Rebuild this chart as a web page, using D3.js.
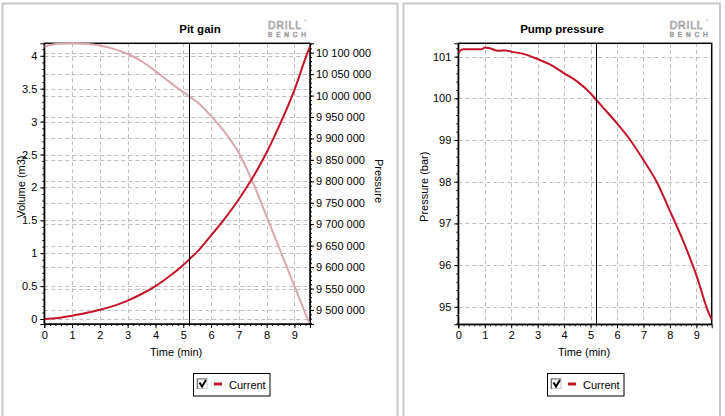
<!DOCTYPE html>
<html><head><meta charset="utf-8">
<script src="https://cdn.jsdelivr.net/npm/d3@7/dist/d3.min.js"></script>
<style>
body{margin:0;background:#fff;}
svg{display:block;font-family:"Liberation Sans",Arial,sans-serif;}
</style></head>
<body>
<svg id="c" width="725" height="416"></svg>
<script>
// ---- data ----
const pitTime   = [0,0.5,1,1.5,2,2.5,3,3.5,4,4.5,5,5.22,5.5,6,6.5,7,7.5,8,8.5,9,9.5,9.56];
const pitVolume = [0,0.015,0.05,0.09,0.14,0.2,0.28,0.38,0.5,0.65,0.82,0.91,1.02,1.27,1.53,1.82,2.15,2.53,2.98,3.48,4.08,4.14];
const pitPressTime = [0,0.3,0.6,1,1.5,2,2.5,3,3.5,4,4.5,5,5.22,5.5,6,6.5,7,7.5,8,8.5,9,9.5,9.56];
const pitPressure  = [10114000,10119000,10121000,10122000,10121000,10117000,10109000,10097000,10080000,10057000,10032000,10008000,9998000,9985000,9952000,9914000,9866000,9798000,9718000,9637000,9556000,9475000,9465000];
const pumpTime     = [0,0.1,0.2,0.5,0.9,1.0,1.2,1.5,1.8,2,2.5,3,3.5,4,4.5,5,5.22,5.5,6,6.5,7,7.5,8,8.5,9,9.5,9.58];
const pumpPressure = [101.08,101.16,101.18,101.18,101.18,101.22,101.2,101.14,101.15,101.12,101.06,100.94,100.8,100.6,100.4,100.12,99.96,99.76,99.4,99.0,98.52,98.0,97.3,96.58,95.76,94.8,94.7];
const xTicks = [0,1,2,3,4,5,6,7,8,9];
const volTicks = [0,0.5,1,1.5,2,2.5,3,3.5,4];
const pressTicks = [9500000,9550000,9600000,9650000,9700000,9750000,9800000,9850000,9900000,9950000,10000000,10050000,10100000];
const pumpTicks = [95,96,97,98,99,100,101];
const cursorTime = 5.22;
const titles = ["Pit gain","Pump pressure"];
const legendLabel = "Current";

const RED = "#c41428", PINK = "#d9a7ae";
const svg = d3.select("#c");
const fmtSp = d => d3.format(",")(d).replace(/,/g," ");

// panel frames
svg.append("rect").attr("x",2.5).attr("y",3.5).attr("width",395).attr("height",420).attr("fill","none").attr("stroke","#c8c8c8").attr("stroke-width",2);
svg.append("rect").attr("x",403.5).attr("y",3.5).attr("width",316.5).attr("height",420).attr("fill","none").attr("stroke","#c8c8c8").attr("stroke-width",2);

function range(a,b,s){const r=[];for(let v=a;v<=b+1e-9;v+=s)r.push(+v.toFixed(6));return r;}

function panel(cfg){
  const g = svg.append("g");
  const x = d3.scaleLinear().domain(cfg.xDom).range([cfg.x0,cfg.x1]);
  const y = d3.scaleLinear().domain(cfg.yDom).range([cfg.y1,cfg.y0]);
  // grid
  const grid = g.append("g").attr("stroke","#bdbdbd").attr("stroke-dasharray","4,3").attr("stroke-width",1);
  xTicks.forEach(t=>grid.append("line").attr("x1",Math.round(x(t))+0.5).attr("x2",Math.round(x(t))+0.5).attr("y1",cfg.y0).attr("y2",cfg.y1));
  cfg.yTicks.forEach(t=>grid.append("line").attr("y1",Math.round(y(t))+0.5).attr("y2",Math.round(y(t))+0.5).attr("x1",cfg.x0).attr("x2",cfg.x1));
  let y2=null;
  if(cfg.y2Dom){
    y2 = d3.scaleLinear().domain(cfg.y2Dom).range([cfg.y1,cfg.y0]);
    cfg.y2Ticks.forEach(t=>grid.append("line").attr("y1",Math.round(y2(t))+0.5).attr("y2",Math.round(y2(t))+0.5).attr("x1",cfg.x0).attr("x2",cfg.x1));
  }
  // axes
  const ax = d3.axisBottom(x).tickValues(xTicks).tickSize(4).tickPadding(3).tickFormat(d3.format("d"));
  g.append("g").attr("transform",`translate(0,${cfg.y1})`).call(ax);
  const axm = d3.axisBottom(x).tickValues(range(0,cfg.xDom[1],0.2)).tickSize(2).tickFormat("");
  g.append("g").attr("transform",`translate(0,${cfg.y1})`).call(axm).select(".domain").remove();
  const ay = d3.axisLeft(y).tickValues(cfg.yTicks).tickSize(4).tickPadding(3).tickFormat(cfg.yFmt);
  g.append("g").attr("transform",`translate(${cfg.x0},0)`).call(ay);
  const aym = d3.axisLeft(y).tickValues(range(cfg.yMinorStart,cfg.yDom[1],cfg.yMinor)).tickSize(2).tickFormat("");
  g.append("g").attr("transform",`translate(${cfg.x0},0)`).call(aym).select(".domain").remove();
  if(y2){
    const ay2 = d3.axisRight(y2).tickValues(cfg.y2Ticks).tickSize(4).tickPadding(2).tickFormat(fmtSp);
    g.append("g").attr("transform",`translate(${cfg.x1},0)`).call(ay2);
    const ay2m = d3.axisRight(y2).tickValues(range(9470000,cfg.y2Dom[1],10000)).tickSize(2).tickFormat("");
    g.append("g").attr("transform",`translate(${cfg.x1},0)`).call(ay2m).select(".domain").remove();
  }
  g.selectAll(".tick text").attr("font-size",11).attr("fill","#000").attr("font-family","Liberation Sans, Arial, sans-serif");
  g.selectAll(".domain").attr("stroke","#000");
  g.selectAll(".tick line").attr("stroke","#000");
  // frame
  g.append("rect").attr("x",cfg.x0).attr("y",cfg.y0).attr("width",cfg.x1-cfg.x0).attr("height",cfg.y1-cfg.y0).attr("fill","none").attr("stroke","#000").attr("stroke-width",1.5);
  // lines
  const clip = "clip"+cfg.id;
  g.append("clipPath").attr("id",clip).append("rect").attr("x",cfg.x0).attr("y",cfg.y0-2).attr("width",cfg.x1-cfg.x0+2).attr("height",cfg.y1-cfg.y0+1);
  cfg.series.forEach(s=>{
    const sc = s.axis===2?y2:y;
    const pts = s.t.map((t,i)=>[t,s.v[i]]);
    g.append("path").attr("clip-path",`url(#${clip})`).attr("d",d3.line().x(d=>x(d[0])).y(d=>sc(d[1])).curve(d3.curveMonotoneX)(pts))
      .attr("fill","none").attr("stroke",s.color).attr("stroke-width",2);
  });
  // cursor
  g.append("line").attr("x1",Math.round(x(cursorTime))+0.5).attr("x2",Math.round(x(cursorTime))+0.5).attr("y1",cfg.y0).attr("y2",cfg.y1).attr("stroke","#000").attr("stroke-width",1);
  // title
  g.append("text").attr("x",cfg.titleX).attr("y",33).attr("text-anchor","middle").attr("font-size",11.5).attr("font-weight","bold").text(cfg.title);
  // logo
  const lx = cfg.x1-42;
  g.append("text").attr("x",lx).attr("y",29).attr("font-size",10.5).attr("textLength",33).attr("lengthAdjust","spacing").attr("fill","#fff").attr("stroke","#9a9a9a").attr("stroke-width",0.7).text("DRILL");
  g.append("text").attr("x",lx+36).attr("y",22).attr("font-size",4).attr("fill","#9a9a9a").text("®");
  g.append("text").attr("x",lx).attr("y",37).attr("font-size",6.5).attr("textLength",38).attr("lengthAdjust","spacing").attr("fill","#fff").attr("stroke","#9a9a9a").attr("stroke-width",0.6).text("BENCH");
  // axis labels
  const cx = (cfg.x0+cfg.x1)/2-1;
  g.append("text").attr("x",cx).attr("y",356).attr("text-anchor","middle").attr("font-size",11).text("Time (min)");
  g.append("text").attr("transform",`translate(${cfg.ylabX},${(cfg.y0+cfg.y1)/2+3}) rotate(-90)`).attr("text-anchor","middle").attr("font-size",11).text(cfg.yLabel);
  if(cfg.y2Label) g.append("text").attr("transform",`translate(${cfg.y2labX},181) rotate(90)`).attr("text-anchor","middle").attr("font-size",11).text(cfg.y2Label);
  // legend
  const L = cfg.legendX;
  g.append("rect").attr("x",L+0.5).attr("y",373.5).attr("width",76.5).attr("height",22.5).attr("fill","#fff").attr("stroke","#000").attr("stroke-width",1);
  g.append("rect").attr("x",L+4).attr("y",378.5).attr("width",10).attr("height",10).attr("fill","#fff").attr("stroke","#c8c8c8");
  g.append("path").attr("d",`M${L+4.5},389 V379 H${L+14}`).attr("fill","none").attr("stroke","#707070").attr("stroke-width",1.2);
  g.append("path").attr("d",`M${L+6.5},382.5 L${L+9},386.5 L${L+13},380`).attr("fill","none").attr("stroke","#000").attr("stroke-width",2);
  g.append("line").attr("x1",L+21).attr("x2",L+29).attr("y1",384).attr("y2",384).attr("stroke",RED).attr("stroke-width",3);
  g.append("text").attr("x",L+36).attr("y",388.5).attr("font-size",11).text(legendLabel);
}

panel({id:"a",x0:44.3,x1:310,y0:43.3,y1:324,xDom:[0,9.56],yDom:[-0.076,4.19],
  yTicks:volTicks,yFmt:d3.format("~g"),yMinor:0.1,yMinorStart:0,
  y2Dom:[9467350,10121900],y2Ticks:pressTicks,
  series:[{t:pitPressTime,v:pitPressure,axis:2,color:PINK},{t:pitTime,v:pitVolume,axis:1,color:RED}],
  title:titles[0],titleX:200,yLabel:"Volume (m3)",ylabX:25,y2Label:"Pressure",y2labX:375,legendX:193});
panel({id:"b",x0:458.3,x1:711.7,y0:43.3,y1:324.3,xDom:[0,9.58],yDom:[94.58,101.32],
  yTicks:pumpTicks,yFmt:d3.format("d"),yMinor:0.2,yMinorStart:94.6,
  series:[{t:pumpTime,v:pumpPressure,axis:1,color:RED}],
  title:titles[1],titleX:562,yLabel:"Pressure (bar)",ylabX:428,legendX:547});
</script>
</body></html>
